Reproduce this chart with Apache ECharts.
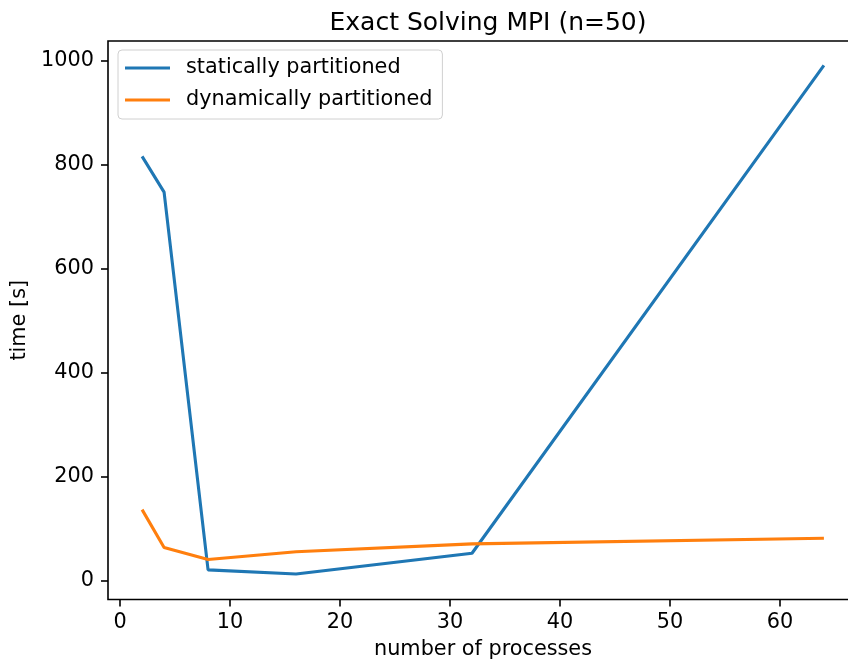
<!DOCTYPE html>
<html>
<head>
<meta charset="utf-8">
<script src="https://cdn.jsdelivr.net/npm/echarts@6/dist/echarts.min.js"></script>
<style>
  html, body { margin: 0; padding: 0; background: #fff; }
  #chart { width: 848px; height: 666px; }
</style>
</head>
<body>
<div id="chart"></div>
<script>
// number of processes
var procs = [2, 4, 8, 16, 32, 64];
// time [s]
var staticTimes = [816, 747, 20, 12, 52, 991];
var dynamicTimes = [136, 63, 40, 55, 70, 81];
var xTicks = [0, 10, 20, 30, 40, 50, 60];
var yTicks = [0, 200, 400, 600, 800, 1000];

var font = 'DejaVu Sans';
var fs = 20.8;

function pairs(xs, ys) {
    return xs.map(function (x, i) { return [x, ys[i]]; });
}

var chart = echarts.init(document.getElementById('chart'), null, { renderer: 'canvas' });

var option = {
    animation: false,
    backgroundColor: '#fff',
    title: {
        text: 'Exact Solving MPI (n=50)',
        left: 483,
        textAlign: 'center',
        top: 6,
        textStyle: { fontFamily: font, fontSize: 25, fontWeight: 'normal', color: '#000' }
    },
    grid: {
        left: 108,
        top: 41,
        width: 750,
        height: 558.5,
        outerBoundsMode: 'none',
        containLabel: false,
        show: true,
        borderColor: '#000',
        borderWidth: 1.6,
        backgroundColor: 'transparent'
    },
    legend: {
        orient: 'vertical',
        left: 118,
        top: 50,
        padding: [7, 10, 8, 7],
        itemGap: 10,
        itemWidth: 45,
        itemHeight: 3,
        icon: 'rect',
        backgroundColor: 'rgba(255,255,255,0.8)',
        borderColor: '#d0d0d0',
        borderWidth: 1,
        borderRadius: 4,
        textStyle: { fontFamily: font, fontSize: fs, color: '#000', lineHeight: 22, padding: [0, 0, 0, 11] },
        data: ['statically partitioned', 'dynamically partitioned']
    },
    xAxis: {
        type: 'value',
        min: -1.1,
        max: 67.1,
        name: 'number of processes',
        nameLocation: 'middle',
        nameGap: 40,
        nameTextStyle: { fontFamily: font, fontSize: fs, color: '#000' },
        axisLine: { show: false, onZero: false },
        splitLine: { show: false },
        axisTick: { show: true, length: 7, inside: false, customValues: xTicks, lineStyle: { color: '#000', width: 1.6 } },
        axisLabel: { customValues: xTicks, margin: 13, fontFamily: font, fontSize: fs, color: '#000',
            formatter: function (v) { return String(v); } }
    },
    yAxis: {
        type: 'value',
        min: -37,
        max: 1038,
        name: 'time [s]',
        nameLocation: 'middle',
        nameGap: 75,
        nameTextStyle: { fontFamily: font, fontSize: fs, color: '#000' },
        axisLine: { show: false, onZero: false },
        splitLine: { show: false },
        axisTick: { show: true, length: 7, inside: false, customValues: yTicks, lineStyle: { color: '#000', width: 1.6 } },
        axisLabel: { customValues: yTicks, margin: 14, fontFamily: font, fontSize: fs, color: '#000',
            formatter: function (v) { return String(v); } }
    },
    series: [
        {
            name: 'statically partitioned',
            type: 'line',
            symbol: 'none',
            color: '#1f77b4',
            lineStyle: { width: 3.1, color: '#1f77b4' },
            data: pairs(procs, staticTimes)
        },
        {
            name: 'dynamically partitioned',
            type: 'line',
            symbol: 'none',
            color: '#ff7f0e',
            lineStyle: { width: 3.1, color: '#ff7f0e' },
            data: pairs(procs, dynamicTimes)
        }
    ]
};

chart.setOption(option);
</script>
</body>
</html>
